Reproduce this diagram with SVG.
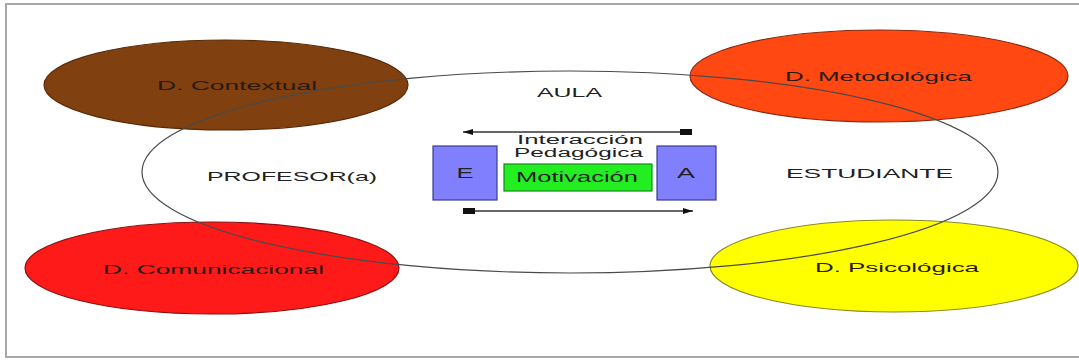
<svg xmlns="http://www.w3.org/2000/svg" width="1079" height="360" viewBox="0 0 1079 360">
  <style>
    .frame { fill: #ffffff; stroke: #a8a8a8; stroke-width: 2; }
    .dim { stroke-width: 1.2; }
    .lbl { font-family: "Liberation Sans", Arial, sans-serif; fill: #222222; }
    .dlbl { font-family: "Liberation Sans", Arial, sans-serif; fill: #2a1a10; font-size: 13px; }
    .box { fill: #8080ff; stroke: #3c3c8c; stroke-width: 1.2; }
    .conn { stroke: #333333; stroke-width: 1.3; fill: none; }
  </style>
  <defs>
    <marker id="head" viewBox="0 0 10 6" refX="10" refY="3" markerWidth="10" markerHeight="6" markerUnits="userSpaceOnUse" orient="auto">
      <path d="M0,0 L10,3 L0,6 Z" fill="#111111"/>
    </marker>
    <marker id="tail" viewBox="0 0 12 6" refX="0" refY="3" markerWidth="12" markerHeight="6" markerUnits="userSpaceOnUse" orient="auto">
      <rect x="0" y="0" width="12" height="6" fill="#111111"/>
    </marker>
  </defs>

  <!-- page frame -->
  <rect class="frame" x="6" y="4" width="1085" height="353"/>

  <!-- dimension ellipses -->
  <g id="d-contextual">
    <ellipse class="dim" cx="226" cy="85" rx="182" ry="45" fill="#804010" stroke="#5a2a08"/>
    <text class="dlbl" x="157" y="90" textLength="160" lengthAdjust="spacingAndGlyphs">D. Contextual</text>
  </g>
  <g id="d-metodologica">
    <ellipse class="dim" cx="879" cy="76" rx="189" ry="46" fill="#ff4812" stroke="#8a2a10"/>
    <text class="dlbl" x="785" y="81" textLength="187" lengthAdjust="spacingAndGlyphs">D. Metodológica</text>
  </g>
  <g id="d-comunicacional">
    <ellipse class="dim" cx="212" cy="268" rx="187" ry="46" fill="#ff1a1a" stroke="#8a1010"/>
    <text class="dlbl" x="103" y="274" textLength="221" lengthAdjust="spacingAndGlyphs">D. Comunicacional</text>
  </g>
  <g id="d-psicologica">
    <ellipse class="dim" cx="894" cy="266" rx="184" ry="46" fill="#ffff00" stroke="#8a8a20"/>
    <text class="dlbl" x="815" y="272" textLength="164" lengthAdjust="spacingAndGlyphs">D. Psicológica</text>
  </g>

  <!-- classroom -->
  <g id="aula">
    <ellipse cx="570" cy="172" rx="428" ry="101" fill="none" stroke="#4a4a4a" stroke-width="1.2"/>
    <text class="lbl" x="537" y="97" font-size="13" textLength="65" lengthAdjust="spacingAndGlyphs">AULA</text>
  </g>
  <g id="profesor">
    <text class="lbl" x="207" y="181" font-size="13" textLength="170" lengthAdjust="spacingAndGlyphs">PROFESOR(a)</text>
  </g>
  <g id="estudiante">
    <text class="lbl" x="786" y="178" font-size="13" textLength="167" lengthAdjust="spacingAndGlyphs">ESTUDIANTE</text>
  </g>

  <!-- pedagogical interaction -->
  <g id="box-e">
    <rect class="box" x="433" y="146" width="64" height="54"/>
    <text class="lbl" x="465" y="178" font-size="14" text-anchor="middle" textLength="17" lengthAdjust="spacingAndGlyphs" fill="#333366">E</text>
  </g>
  <g id="box-a">
    <rect class="box" x="657" y="146" width="59" height="54"/>
    <text class="lbl" x="686" y="178" font-size="14" text-anchor="middle" textLength="18" lengthAdjust="spacingAndGlyphs" fill="#333366">A</text>
  </g>
  <g id="interaccion">
    <text class="lbl" x="517" y="144" font-size="12" textLength="126" lengthAdjust="spacingAndGlyphs">Interacción</text>
    <text class="lbl" x="514" y="157" font-size="12" textLength="129" lengthAdjust="spacingAndGlyphs">Pedagógica</text>
  </g>
  <g id="motivacion">
    <rect x="504" y="164" width="148" height="27" fill="#22ee22" stroke="#158a15" stroke-width="1.2"/>
    <text class="lbl" x="516" y="182" font-size="14" textLength="122" lengthAdjust="spacingAndGlyphs" fill="#185018">Motivación</text>
  </g>

  <!-- connectors -->
  <g id="connectors">
    <line class="conn" x1="692" y1="132" x2="463" y2="132" marker-start="url(#tail)" marker-end="url(#head)"/>
    <line class="conn" x1="463" y1="211" x2="693" y2="211" marker-start="url(#tail)" marker-end="url(#head)"/>
  </g>
</svg>
